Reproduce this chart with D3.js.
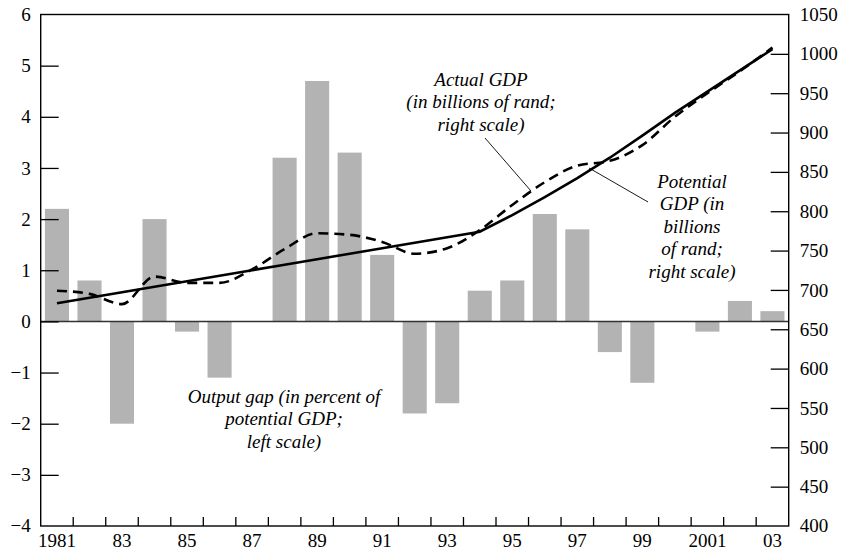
<!DOCTYPE html>
<html>
<head>
    <meta charset="utf-8">
    <script src="https://d3js.org/d3.v7.min.js"></script>
    <style>
        body { margin: 0; background: #fff; }
        text { font-family: "Liberation Serif", "Times New Roman", serif; fill: #000; }
    </style>
</head>
<body>
<script>

    var years = d3.range(1981, 2004);
    var outputGap = [2.2, 0.8, -2.0, 2.0, -0.2, -1.1, 0, 3.2, 4.7, 3.3, 1.3, -1.8,
        -1.6, 0.6, 0.8, 2.1, 1.8, -0.6, -1.2, 0, -0.2, 0.4, 0.2];
    var potentialGdp = [683, 690, 697, 704, 711, 718, 725, 732, 739, 746, 753, 760,
        767, 774, 795, 818, 842, 868, 896, 925, 952, 979, 1006];
    var actualGdp = [699, 695, 682, 717, 709, 709, 726, 752, 772, 770, 761, 746,
        753, 776, 808, 837, 858, 864, 884, 920, 950, 978, 1008];
    var leftTicks = [-3, -2, -1, 0, 1, 2, 3, 4, 5];
    var rightTicks = [450, 500, 550, 600, 650, 700, 750, 800, 850, 900, 950, 1000];
    var yearLabel = function(y) {
        if (y == 1981 || y == 2001) return String(y);
        return String(y).slice(2);
    };

    var width = 844;
    var height = 553;
    var pLeft = 40.7, pRight = 788.7, pTop = 14.5, pBottom = 526;

    var svg = d3.select('body').append('svg')
        .attr('width', width)
        .attr('height', height);

    var x = d3.scaleBand()
        .domain(years)
        .range([pLeft, pRight])
        .paddingInner(0.26)
        .paddingOuter(0.13);

    var yLeft = d3.scaleLinear().domain([-4, 6]).range([pBottom, pTop]);
    var yRight = d3.scaleLinear().domain([400, 1050]).range([pBottom, pTop]);

    var cx = function(i) { return x(years[i]) + x.bandwidth() / 2; };

    // bars
    svg.append('g').selectAll('rect')
        .data(outputGap)
        .enter().append('rect')
        .attr('x', function(d, i) { return x(years[i]); })
        .attr('width', x.bandwidth())
        .attr('y', function(d) { return yLeft(Math.max(d, 0)); })
        .attr('height', function(d) { return Math.abs(yLeft(d) - yLeft(0)); })
        .attr('fill', '#b3b3b3');

    // zero line
    svg.append('line')
        .attr('x1', pLeft).attr('x2', pRight)
        .attr('y1', yLeft(0)).attr('y2', yLeft(0))
        .attr('stroke', '#333').attr('stroke-width', 1.5);

    // lines
    var line = d3.line()
        .x(function(d, i) { return cx(i); })
        .y(function(d) { return yRight(d); });

    svg.append('path')
        .datum(potentialGdp)
        .attr('d', line)
        .attr('fill', 'none')
        .attr('stroke', '#000')
        .attr('stroke-width', 2.6);

    svg.append('path')
        .datum(actualGdp)
        .attr('d', line.curve(d3.curveMonotoneX))
        .attr('fill', 'none')
        .attr('stroke', '#000')
        .attr('stroke-width', 2.6)
        .attr('stroke-dasharray', '10,6');

    // left axis
    var gL = svg.append('g')
        .attr('transform', 'translate(' + pLeft + ',0)')
        .call(d3.axisLeft(yLeft).tickValues(leftTicks).tickSize(-18).tickSizeOuter(0).tickPadding(10)
            .tickFormat(function(d) { return d < 0 ? '\u2212' + Math.abs(d) : d; }));
    gL.select('.domain').remove();

    var gR = svg.append('g')
        .attr('transform', 'translate(' + pRight + ',0)')
        .call(d3.axisRight(yRight).tickValues(rightTicks).tickSize(-18).tickSizeOuter(0).tickPadding(11)
            .tickFormat(d3.format('d')));
    gR.select('.domain').remove();

    // end labels at frame corners
    svg.append('text').attr('x', pLeft - 10).attr('y', yLeft(6)).attr('dy', '0.32em')
        .attr('text-anchor', 'end').style('font-size', '19px').text('6');
    svg.append('text').attr('x', pLeft - 10).attr('y', yLeft(-4)).attr('dy', '0.32em')
        .attr('text-anchor', 'end').style('font-size', '19px').text('\u22124');
    svg.append('text').attr('x', pRight + 11).attr('y', yRight(1050)).attr('dy', '0.32em')
        .style('font-size', '19px').text('1050');
    svg.append('text').attr('x', pRight + 11).attr('y', yRight(400)).attr('dy', '0.32em')
        .style('font-size', '19px').text('400');

    // bottom axis labels
    var gB = svg.append('g')
        .attr('transform', 'translate(0,' + pBottom + ')')
        .call(d3.axisBottom(x).tickValues(years.filter(function(y) { return y % 2 == 1; }))
            .tickSize(0).tickPadding(8).tickFormat(yearLabel));
    gB.select('.domain').remove();

    // bottom ticks between bars
    svg.append('g').selectAll('line')
        .data(years.slice(0, -1))
        .enter().append('line')
        .attr('x1', function(d) { return x(d) + x.step() - x.step() * 0.13; })
        .attr('x2', function(d) { return x(d) + x.step() - x.step() * 0.13; })
        .attr('y1', pBottom).attr('y2', pBottom - 9)
        .attr('stroke', '#000').attr('stroke-width', 1.3);

    svg.selectAll('.tick text').style('font-size', '19px').style('font-family', '"Liberation Serif", serif');
    svg.selectAll('.tick line').attr('stroke', '#000').attr('stroke-width', 1.3);

    // frame
    svg.append('rect')
        .attr('x', pLeft).attr('y', pTop)
        .attr('width', pRight - pLeft).attr('height', pBottom - pTop)
        .attr('fill', 'none').attr('stroke', '#000').attr('stroke-width', 1.4);

    // annotations
    function note(lines, xc, y0) {
        var t = svg.append('text')
            .attr('text-anchor', 'middle')
            .style('font-size', '19px')
            .style('font-style', 'italic');
        lines.forEach(function(s, i) {
            t.append('tspan').attr('x', xc).attr('y', y0 + i * 22.4).text(s);
        });
    }

    note(['Actual GDP', '(in billions of rand;', 'right scale)'], 481, 86);
    note(['Potential', 'GDP (in', 'billions', 'of rand;', 'right scale)'], 692, 188);
    note(['Output gap (in percent of', 'potential GDP;', 'left scale)'], 284, 403);

    svg.append('line')
        .attr('x1', 485).attr('y1', 138).attr('x2', 531).attr('y2', 191)
        .attr('stroke', '#000').attr('stroke-width', 0.9);
    svg.append('line')
        .attr('x1', 589).attr('y1', 168).attr('x2', 648).attr('y2', 202)
        .attr('stroke', '#000').attr('stroke-width', 0.9);

</script>
</body>
</html>
